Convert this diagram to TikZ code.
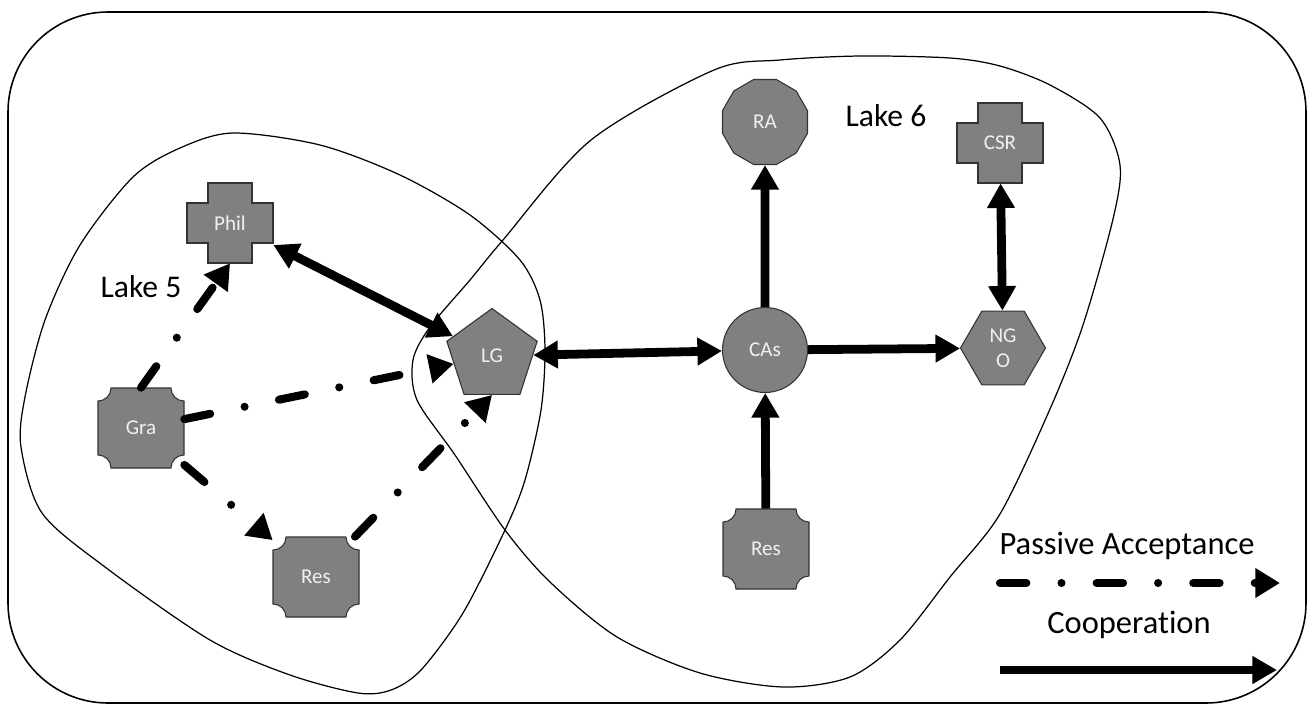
\documentclass[tikz,border=0pt]{standalone}
\usepackage{fontspec}
\setmainfont{Carlito}[RawFeature={-liga;-clig;-calt;-dlig}]
\usetikzlibrary{arrows.meta,shapes.geometric}

\tikzset{
    agent/.style={fill=gray, draw=black!80, line width=0.6pt},
    agenttext/.style={text=white!94!black, font=\fontsize{12}{14}\selectfont,
        inner sep=0pt, align=center},
    boxagent/.style={agenttext, minimum width=1.72cm, minimum height=1.6cm},
    lake/.style={line width=0.7pt},
    lakelabel/.style={font=\fontsize{18}{21}\selectfont},
    legendtext/.style={font=\fontsize{18.5}{22}\selectfont},
    coop/.style={line width=5pt, -{Triangle[length=14pt,width=15pt]}},
    coopboth/.style={line width=5pt, {Triangle[length=14pt,width=15pt]}-{Triangle[length=14pt,width=15pt]}},
    passive/.style={line width=4.6pt, line cap=round,
        dash pattern=on 15pt off 20pt on 0pt off 20pt,
        -{Triangle[length=14pt,width=16pt]}},
}

% cross shaped actor: name, position, label
\newcommand{\crossagent}[3]{%
    \draw[agent] (#2) ++(-22,-40) -- ++(44,0) -- ++(0,20) -- ++(21,0) -- ++(0,40)
        -- ++(-21,0) -- ++(0,20) -- ++(-44,0) -- ++(0,-20) -- ++(-21,0)
        -- ++(0,-40) -- ++(21,0) -- cycle;
    \node[boxagent] (#1) at (#2) {#3};
}
% box with hollow corners: name, position, label
\newcommand{\notchagent}[3]{%
    \draw[agent] (#2) ++(-30,-40) -- ++(60,0)
        arc[start angle=180, end angle=90, radius=13] -- ++(0,54)
        arc[start angle=270, end angle=180, radius=13] -- ++(-60,0)
        arc[start angle=360, end angle=270, radius=13] -- ++(0,-54)
        arc[start angle=90, end angle=0, radius=13] -- cycle;
    \node[boxagent] (#1) at (#2) {#3};
}

\begin{document}
\begin{tikzpicture}[x=0.02cm, y=-0.02cm]
        \useasboundingbox (0,0) rectangle (1313,711);

        % frame and the two lakes
        \draw[line width=0.9pt, rounded corners=2cm] (8,12) rectangle (1306,703);
        \draw[lake] plot[smooth cycle] coordinates {
            (233,133) (320,145) (400,175) (470,215) (520,260) (540,300) (545,350)
            (541,410) (525,480) (505,530) (463,613) (421,670) (391,690) (358,693)
            (290,675) (210,640) (105,567) (42,513) (21,447) (25,397) (45,320)
            (80,245) (133,177) (180,148)};
        \draw[lake] plot[smooth cycle] coordinates {
            (860,56) (950,58) (1000,66) (1050,85) (1100,118) (1120,165) (1113,219)
            (1083,325) (1050,409) (1000,514) (950,577) (900,640) (850,677)
            (783,687) (700,673) (617,637) (550,582) (505,530) (455,455) (417,400)
            (413,360) (430,327) (470,280) (503,240) (591,140) (714,70) (780,60)};

        \node[lakelabel] (lakefive) at (141,287) {Lake 5};
        \node[lakelabel] (lakesix) at (886,116) {Lake 6};

        % actors of lake 5
        \crossagent{phil}{230,223}{Phil}
        \notchagent{gra}{141,428}{Gra}
        \notchagent{res5}{316,577}{Res}
        \node[agent, agenttext, regular polygon, regular polygon sides=5,
            minimum size=1.9cm] (lg) at (492,356) {LG};

        % actors of lake 6
        \node[agent, agenttext, circle, minimum size=1.7cm] (cas) at (765,350) {CAs};
        \node[agent, agenttext, regular polygon, regular polygon sides=12,
            minimum size=1.76cm] (ra) at (765,122) {RA};
        \crossagent{csr}{1000,143}{CSR}
        \node[agent, agenttext, regular polygon, regular polygon sides=6,
            minimum size=1.7cm] (ngo) at (1003,348) {NG\\O};
        \notchagent{res6}{766,549}{Res}

        % passive acceptance
        \draw[passive] (gra.north) -- (phil.south);
        \draw[passive] (gra) -- (lg);
        \draw[passive] (gra) -- (res5);
        \draw[passive] (res5) -- (lg.south);

        % cooperation
        \draw[coopboth] (phil) -- (lg);
        \draw[coopboth] (lg) -- (cas);
        \draw[coopboth] (csr) -- (ngo);
        \foreach \from/\to in {cas/ra, cas/ngo, res6/cas}
            \draw[coop] (\from) -- (\to);

        % legend
        \node[legendtext] (passlbl) at (1127,546) {Passive Acceptance};
        \coordinate (passA) at (1000,583);
        \coordinate (passB) at (1280,583);
        \draw[passive] (passA) -- (passB);
        \node[legendtext] (cooplbl) at (1129,625) {Cooperation};
        \coordinate (coopA) at (1000,670);
        \coordinate (coopB) at (1277,670);
        \draw[coop] (coopA) -- (coopB);

    \end{tikzpicture}
\end{document}
